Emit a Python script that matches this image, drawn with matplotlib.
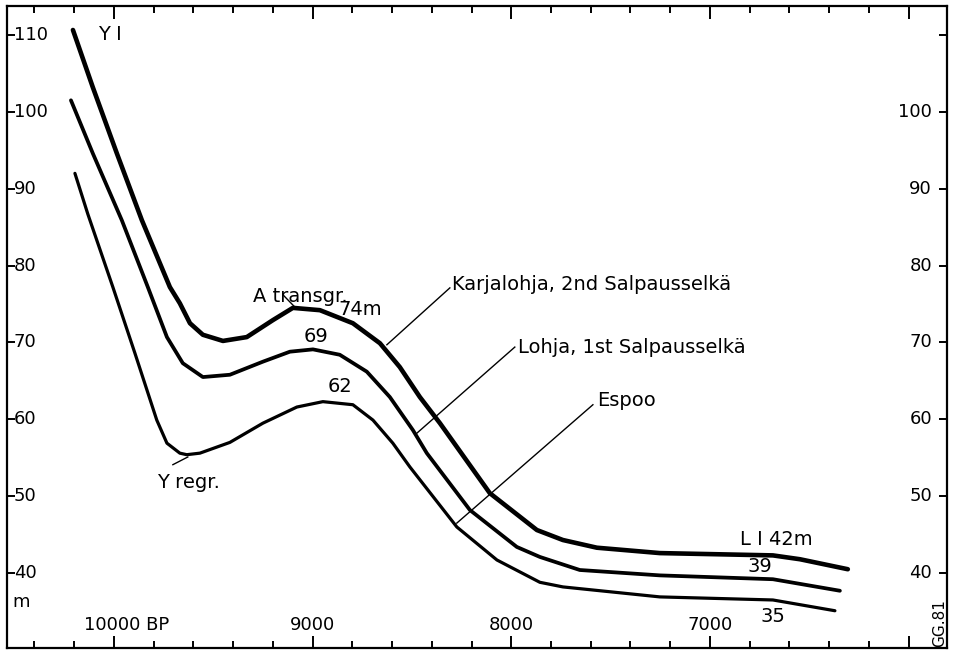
import matplotlib
matplotlib.use("Agg")
import matplotlib.pyplot as plt
from matplotlib.ticker import MultipleLocator

plt.rcParams['font.family'] = ['DejaVu Sans']

# shoreline curves, years BP vs elevation (m)
karjalohja_x = [10206, 10106, 9985, 9859, 9718, 9668, 9617, 9552, 9451, 9331, 9200, 9099, 8963,
                8797, 8661, 8561, 8460, 8359, 8108, 7871, 7740, 7569, 7252, 6683, 6547, 6306]
karjalohja_y = [110.65, 103.2, 94.6, 85.9, 77.2, 75.1, 72.5, 71.0, 70.2, 70.7, 72.9, 74.5, 74.2,
                72.5, 69.9, 66.8, 62.9, 59.5, 50.4, 45.6, 44.3, 43.3, 42.6, 42.3, 41.8, 40.5]

lohja_x = [10216, 10106, 9960, 9829, 9733, 9653, 9552, 9416, 9250, 9114, 8998, 8863, 8727,
           8611, 8495, 8425, 8208, 7972, 7856, 7655, 7252, 6683, 6346]
lohja_y = [101.5, 94.6, 85.9, 77.2, 70.7, 67.3, 65.5, 65.8, 67.5, 68.8, 69.1, 68.4, 66.2,
           62.9, 58.6, 55.6, 48.2, 43.4, 42.1, 40.4, 39.7, 39.2, 37.7]

espoo_x = [10196, 10131, 10005, 9894, 9784, 9733, 9668, 9633, 9567, 9416, 9250, 9079, 8948,
           8797, 8696, 8596, 8510, 8274, 8072, 7856, 7740, 7252, 6683, 6371]
espoo_y = [92.0, 86.7, 77.2, 68.6, 59.9, 56.9, 55.6, 55.4, 55.6, 57.0, 59.5, 61.6, 62.3,
           61.9, 59.9, 56.9, 53.8, 46.0, 41.7, 38.8, 38.2, 36.9, 36.5, 35.1]

y_ticks = [40, 50, 60, 70, 80, 90, 100, 110]
x_labels = {10000: "10000 BP", 9000: "9000", 8000: "8000", 7000: "7000"}

fig = plt.figure(figsize=(9.55, 6.52), dpi=100)
ax = fig.add_axes([0.0073, 0.0061, 0.9843, 0.9847])
ax.set_xlim(10538, 5807)
ax.set_ylim(30.25, 113.77)

style = dict(color='black', solid_joinstyle='round', solid_capstyle='round')
ax.plot(karjalohja_x, karjalohja_y, lw=3.3, **style)
ax.plot(lohja_x, lohja_y, lw=2.7, **style)
ax.plot(espoo_x, espoo_y, lw=2.3, **style)

for s in ax.spines.values():
    s.set_linewidth(1.6)

ax.xaxis.set_major_locator(MultipleLocator(1000))
ax.xaxis.set_minor_locator(MultipleLocator(200))
ax.set_yticks(y_ticks)
ax.tick_params(axis='both', which='both', direction='in', top=True, right=True,
               labelbottom=False, labelleft=False, width=1.4)
ax.tick_params(axis='x', which='major', length=9)
ax.tick_params(axis='x', which='minor', length=5)
ax.tick_params(axis='y', length=6)

fs = 13
for v in y_ticks:
    ax.text(10503, v, str(v), ha='left', va='center', fontsize=fs)
    if v != 110:
        ax.text(5883, v, str(v), ha='right', va='center', fontsize=fs)
ax.text(10510, 36.3, "m", ha='left', va='center', fontsize=fs)

for v, lab in x_labels.items():
    if v == 10000:
        ax.text(10151, 33.2, lab, ha='left', va='center', fontsize=fs)
    else:
        ax.text(v, 33.2, lab, ha='center', va='center', fontsize=fs)

lfs = 14
ax.text(10080, 110, "Y I", ha='left', va='center', fontsize=lfs)
ax.text(9300, 76.0, "A transgr.", ha='left', va='center', fontsize=lfs)
ax.plot([9149, 9089], [76.2, 74.6], color='black', lw=1)
ax.text(8762, 74.3, "74m", ha='center', va='center', fontsize=lfs)
ax.text(8983, 70.8, "69", ha='center', va='center', fontsize=lfs)
ax.text(8863, 64.3, "62", ha='center', va='center', fontsize=lfs)
ax.text(8299, 77.5, "Karjalohja, 2nd Salpausselkä", ha='left', va='center', fontsize=lfs)
ax.plot([8309, 8626], [77.1, 69.7], color='black', lw=1)
ax.text(7967, 69.4, "Lohja, 1st Salpausselkä", ha='left', va='center', fontsize=lfs)
ax.plot([7982, 8475], [69.4, 58.2], color='black', lw=1)
ax.text(7569, 62.5, "Espoo", ha='left', va='center', fontsize=lfs)
ax.plot([7589, 8274], [61.9, 46.5], color='black', lw=1)
ax.text(9784, 51.8, "Y regr.", ha='left', va='center', fontsize=lfs)
ax.plot([9628, 9703], [55.1, 54.1], color='black', lw=1)
ax.text(6849, 44.4, "L I 42m", ha='left', va='center', fontsize=lfs)
ax.text(6749, 40.8, "39", ha='center', va='center', fontsize=lfs)
ax.text(6683, 34.3, "35", ha='center', va='center', fontsize=lfs)
ax.text(5843, 33.5, "GG.81", ha='center', va='center', rotation=90, fontsize=11)

fig.savefig("out.png", dpi=100)
